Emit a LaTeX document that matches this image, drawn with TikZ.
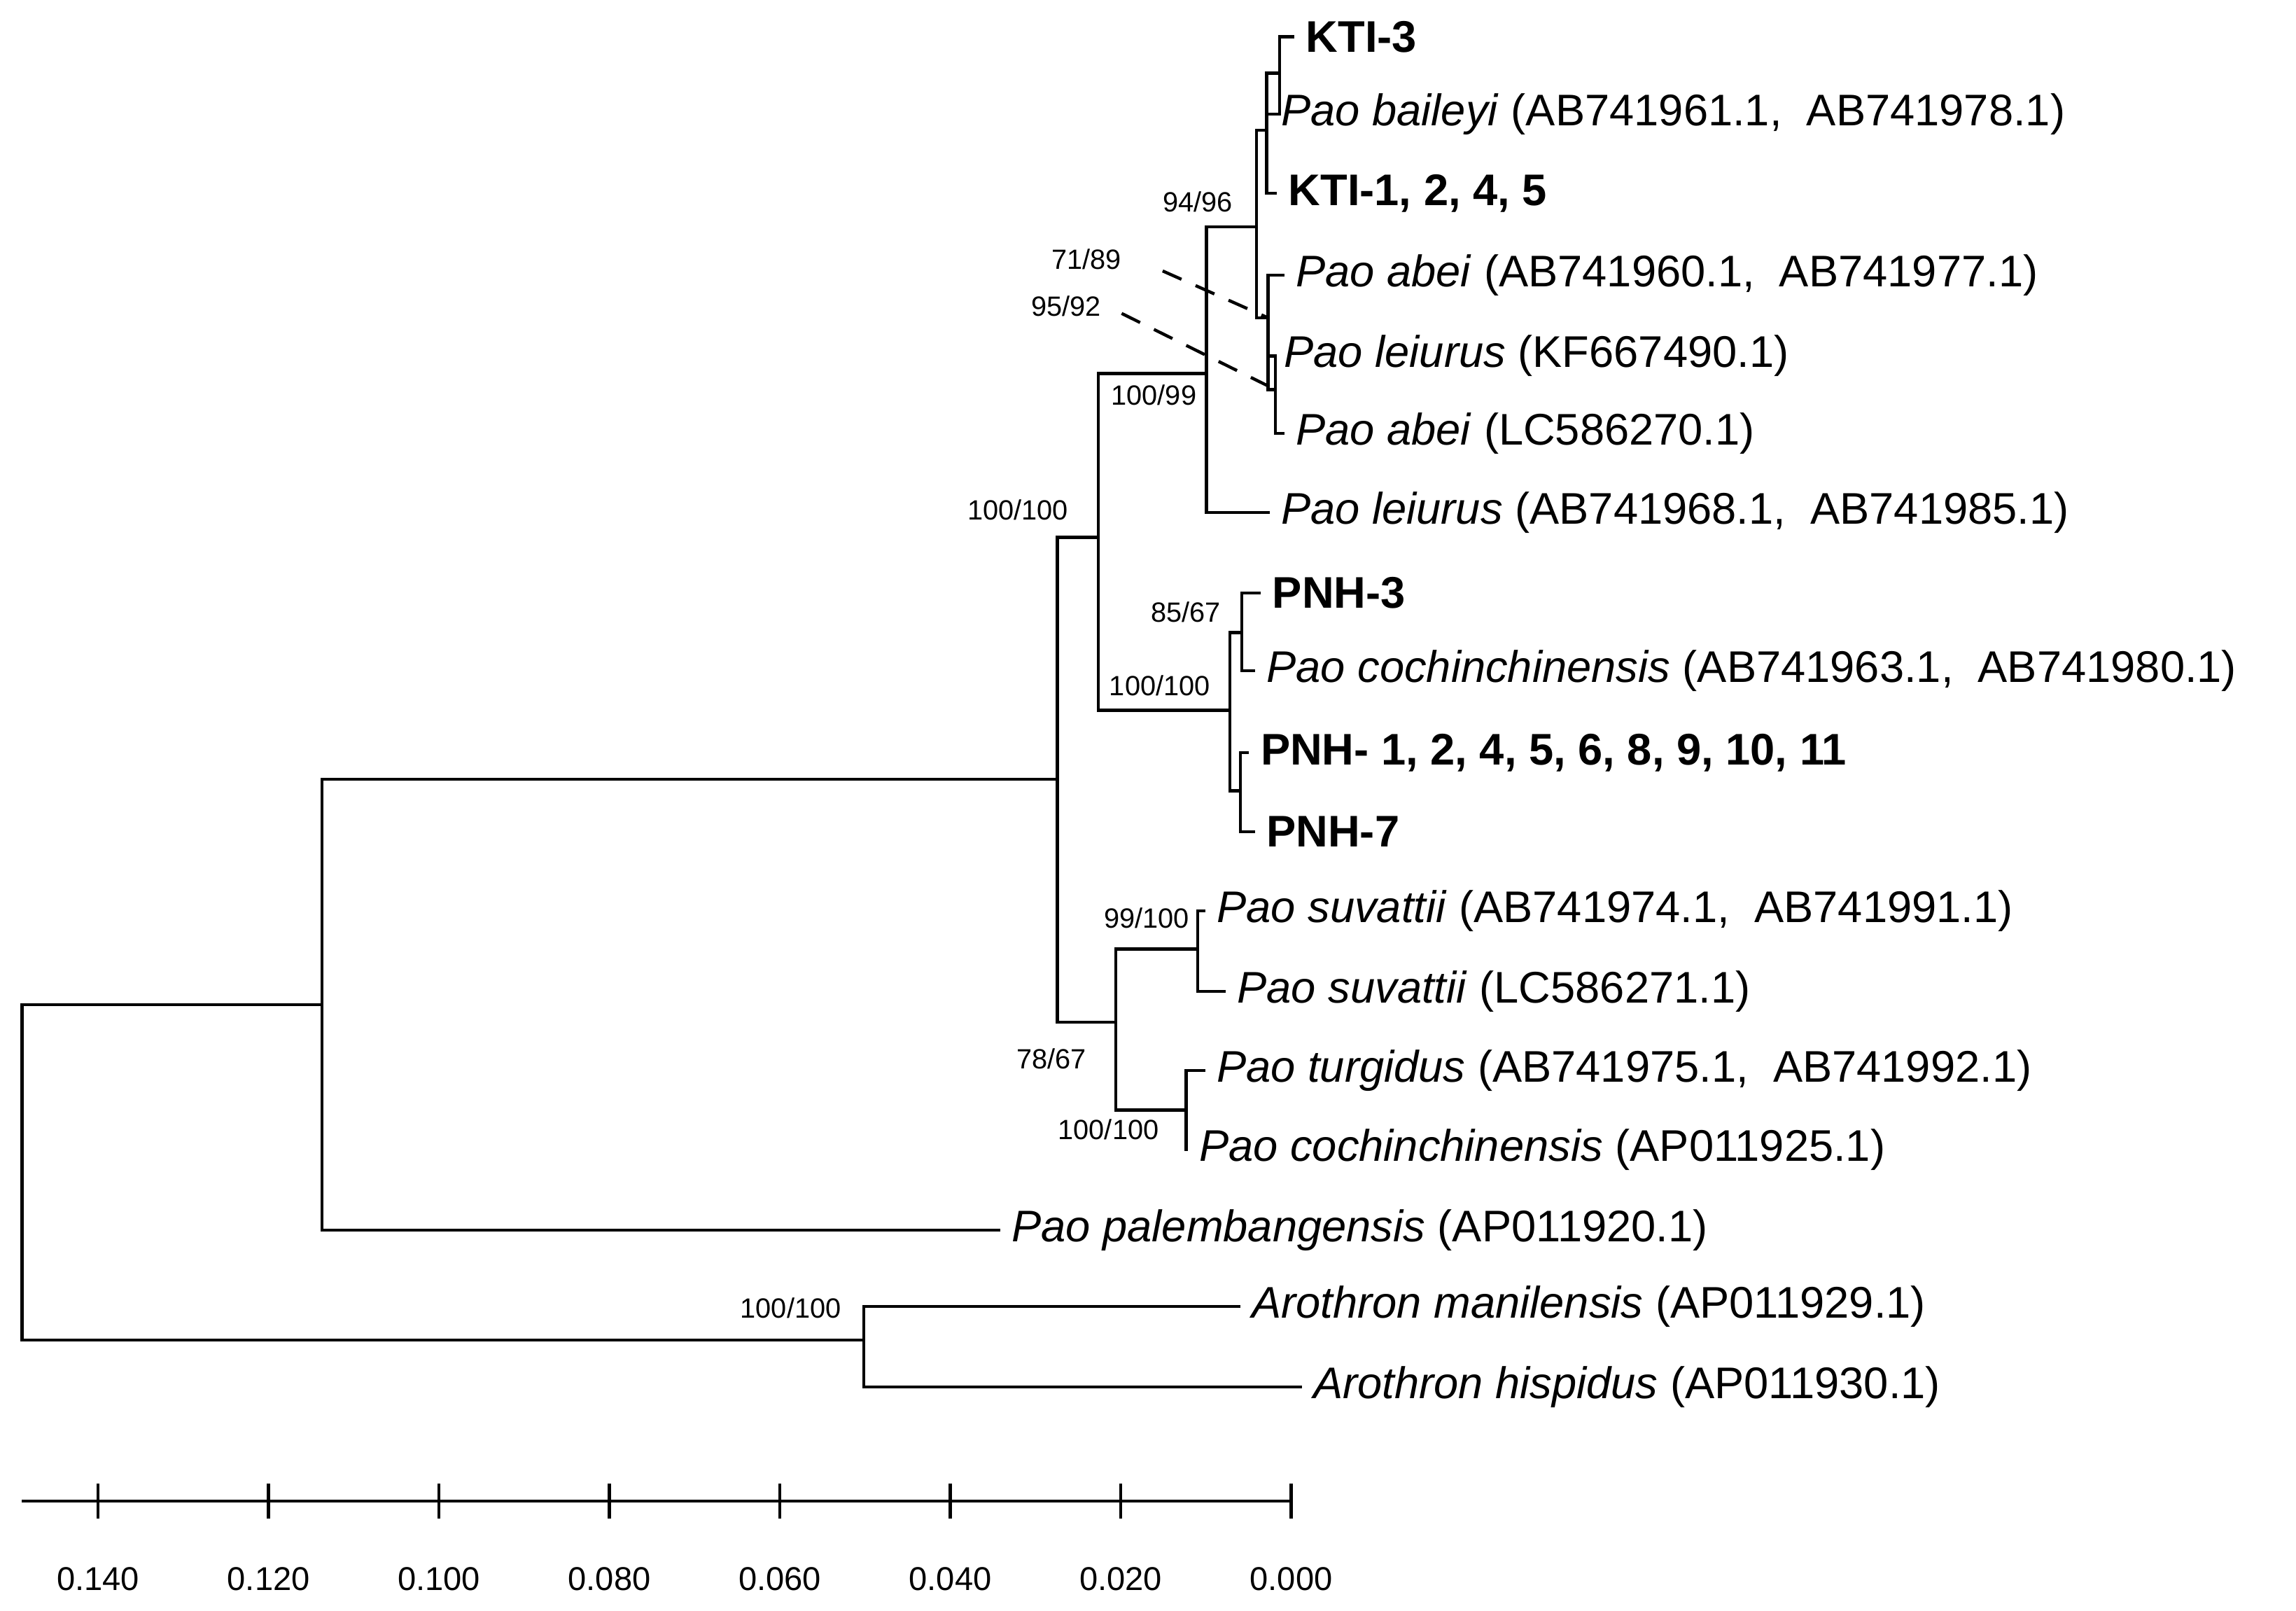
\documentclass[tikz,border=0pt]{standalone}
\usepackage{fontspec}
\setmainfont{Liberation Sans}
\usetikzlibrary{calc}
\tikzset{
every picture/.style={line width=0.6pt, x=0.01cm, y=-0.01cm},
%%%%%%%%%% Node styles
leaf/.style={anchor=west, inner ysep=0pt, inner xsep=0.09cm, outer sep=0,
             font=\fontsize{8.6}{10}\selectfont},
bold_leaf/.style={leaf, font=\fontsize{8.6}{10}\selectfont\bfseries},
support/.style={inner sep=0, outer sep=0, font=\fontsize{5.4}{6}\selectfont},
ticklabel/.style={inner sep=0, font=\fontsize{6.4}{7}\selectfont},
%%%% line styles
branch/.style={line cap=rect},
pointer/.style={densely dashed, dash pattern=on 4pt off 3pt}
}
\newcommand{\paosp}[1]{\textit{Pao #1}}
\begin{document}
\begin{tikzpicture}
\useasboundingbox (0,0) rectangle (1568,1100);
%% internal nodes
\coordinate (root) at (15,915);
\coordinate (pao) at (220,686);
\coordinate (aro) at (590,915);
\coordinate (nB) at (722,532);
\coordinate (nC) at (750,367);
\coordinate (nD) at (824,255);
\coordinate (nE) at (858,155);
\coordinate (nF) at (865,89);
\coordinate (nG) at (874,50);
\coordinate (nH) at (866,217);
\coordinate (nI) at (871,266);
\coordinate (nJ) at (840,485);
\coordinate (nK) at (848,432);
\coordinate (nL) at (847,540);
\coordinate (nM) at (762,698);
\coordinate (nN) at (818,648);
\coordinate (nO) at (810,758);
%% leaves
\node[bold_leaf] (kti3) at (883,25) {KTI-3};
\node[leaf] (bail) at (866,78) {\paosp{baileyi} (AB741961.1,~ AB741978.1)};
\node[bold_leaf] (kti1) at (871,132) {KTI-1, 2, 4, 5};
\node[leaf] (abeiA) at (876,188) {\paosp{abei} (AB741960.1,~ AB741977.1)};
\node[leaf] (leiK) at (868,243) {\paosp{leiurus} (KF667490.1)};
\node[leaf] (abeiL) at (876,296) {\paosp{abei} (LC586270.1)};
\node[leaf] (leiA) at (866,350) {\paosp{leiurus} (AB741968.1,~ AB741985.1)};
\node[bold_leaf] (pnh3) at (860,405) {PNH-3};
\node[leaf] (cochA) at (856,458) {\paosp{cochinchinensis} (AB741963.1,~ AB741980.1)};
\node[bold_leaf] (pnh1) at (852,514) {PNH- 1, 2, 4, 5, 6, 8, 9, 10, 11};
\node[bold_leaf] (pnh7) at (856,568) {PNH-7};
\node[leaf] (suvA) at (822,622) {\paosp{suvattii} (AB741974.1,~ AB741991.1)};
\node[leaf] (suvL) at (836,677) {\paosp{suvattii} (LC586271.1)};
\node[leaf] (turg) at (822,731) {\paosp{turgidus} (AB741975.1,~ AB741992.1)};
\node[leaf] (cochP) at (810,785) {\paosp{cochinchinensis} (AP011925.1)};
\node[leaf] (pale) at (682,840) {\paosp{palembangensis} (AP011920.1)};
\node[leaf] (mani) at (846,892) {\textit{Arothron manilensis} (AP011929.1)};
\node[leaf] (hisp) at (888,947) {\textit{Arothron hispidus} (AP011930.1)};
%% branches
\draw[branch] (root) |- (pao); \draw[branch] (root) |- (aro);
\draw[branch] (aro) |- (mani); \draw[branch] (aro) |- (hisp);
\draw[branch] (pao) |- (nB); \draw[branch] (pao) |- (pale);
\draw[branch] (nB) |- (nC); \draw[branch] (nB) |- (nM);
\draw[branch] (nC) |- (nD); \draw[branch] (nC) |- (nJ);
\draw[branch] (nD) |- (nE); \draw[branch] (nD) |- (leiA);
\draw[branch] (nE) |- (nF); \draw[branch] (nE) |- (nH);
\draw[branch] (nF) |- (nG); \draw[branch] (nF) |- (kti1);
\draw[branch] (nG) |- (kti3); \draw[branch] (nG) |- (bail);
\draw[branch] (nH) |- (abeiA); \draw[branch] (nH) |- (nI);
\draw[branch] (nI) |- (leiK); \draw[branch] (nI) |- (abeiL);
\draw[branch] (nJ) |- (nK); \draw[branch] (nJ) |- (nL);
\draw[branch] (nK) |- (pnh3); \draw[branch] (nK) |- (cochA);
\draw[branch] (nL) |- (pnh1); \draw[branch] (nL) |- (pnh7);
\draw[branch] (nM) |- (nN); \draw[branch] (nM) |- (nO);
\draw[branch] (nN) |- (suvA); \draw[branch] (nN) |- (suvL);
\draw[branch] (nO) |- (turg); \draw[branch] (nO) |- (cochP);
%% supports
\node[support] at (540,893) {100/100};
\node[support] at (695,348) {100/100};
\node[support] at (788,270) {100/99};
\node[support] at (818,138) {94/96};
\node[support] (s7189) at (742,177) {71/89};
\node[support] (s9592) at (728,209) {95/92};
\draw[pointer] ($(s7189)+(52,8)$) coordinate (p1) -- (nH);
\draw[pointer] ($(s9592)+(38,5)$) coordinate (p2) -- (nI);
\node[support] at (810,418) {85/67};
\node[support] at (792,468) {100/100};
\node[support] at (783,627) {99/100};
\node[support] at (718,723) {78/67};
\node[support] at (757,771) {100/100};
%% scale axis
\coordinate (ax0) at (15,1025);
\coordinate (ax1) at (882,1025);
\draw (ax0) -- (ax1);
\foreach \v [count=\i from 0] in {0.140,0.120,0.100,0.080,0.060,0.040,0.020,0.000}{
  \draw (67+116.4*\i,1013) -- (67+116.4*\i,1037);
  \node[ticklabel] at (67+116.4*\i,1078) {\v};
}
\end{tikzpicture}
\end{document}
